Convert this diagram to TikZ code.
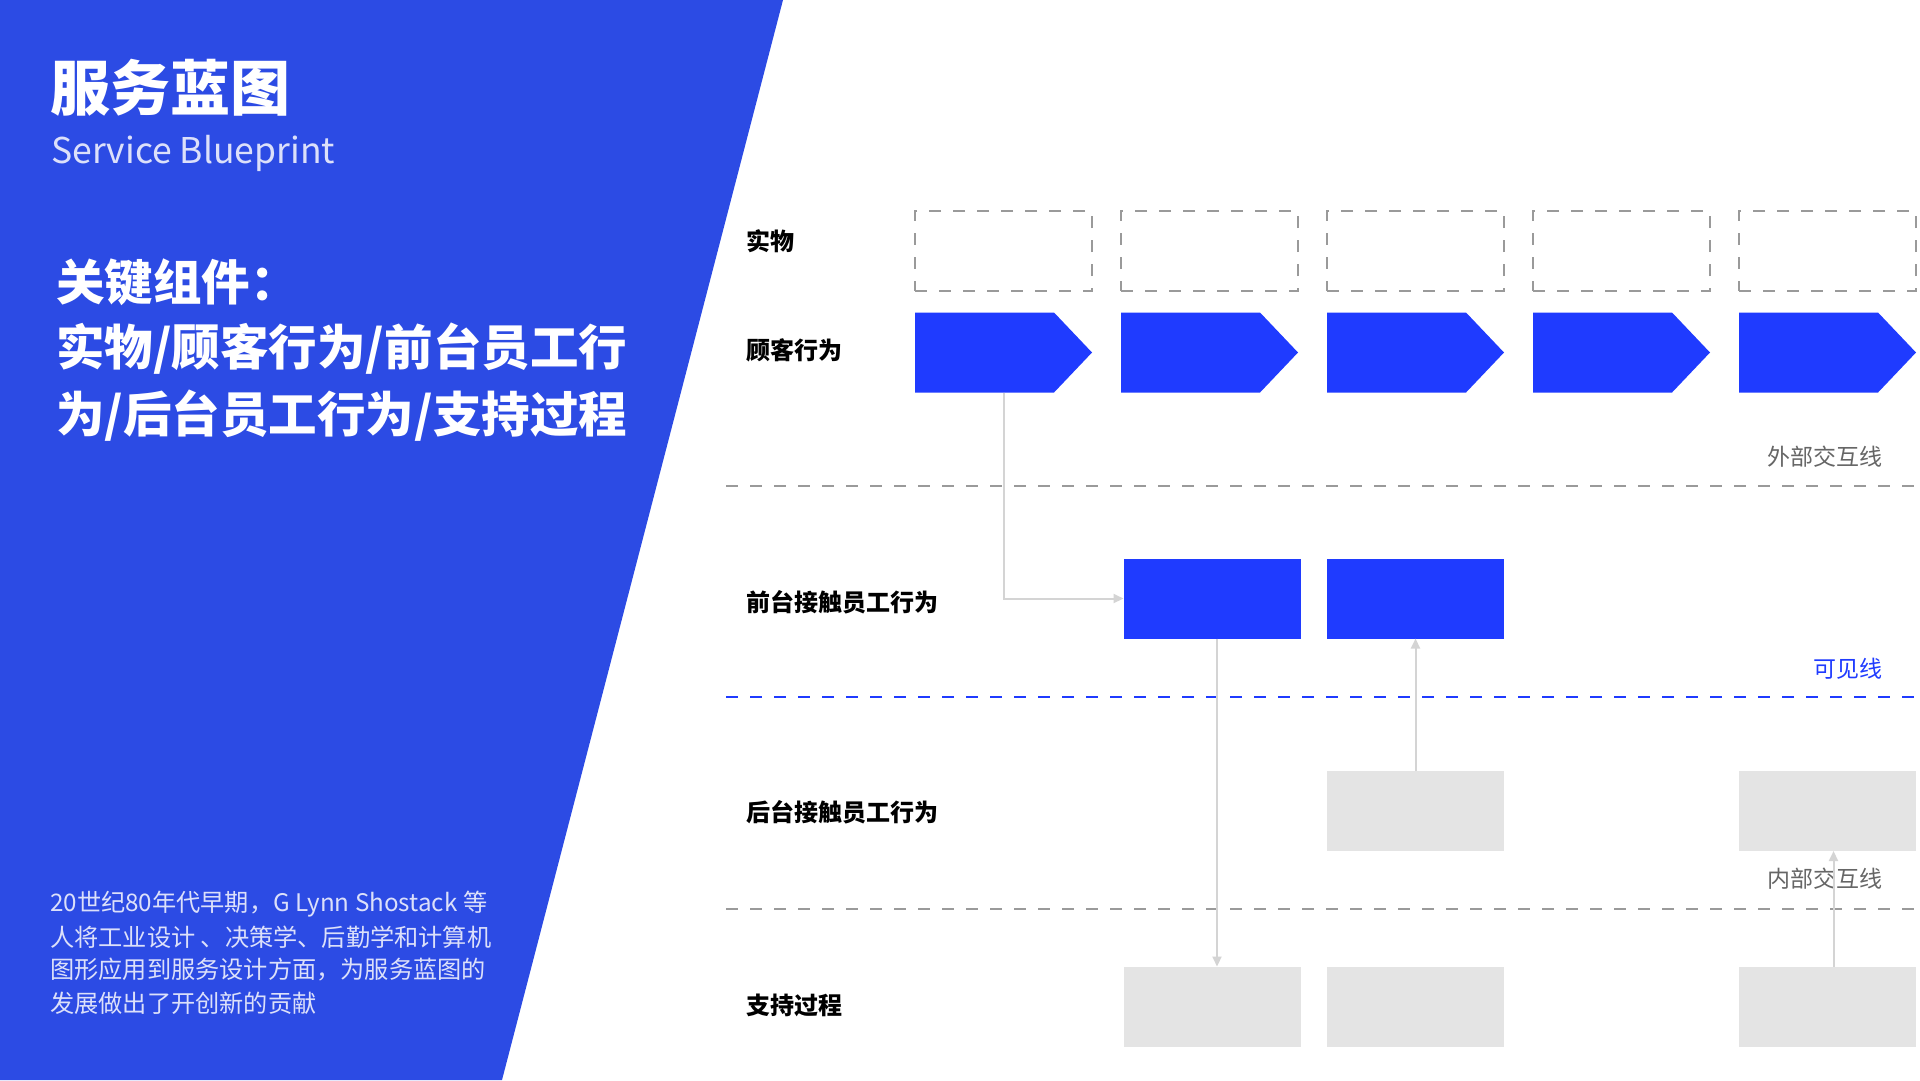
\documentclass[tikz,border=0pt]{standalone}
\usepackage{fontspec}
\setmainfont{Noto Sans CJK SC}
\usetikzlibrary{calc,arrows.meta}
\definecolor{panel}{HTML}{2C4BE4}
\definecolor{vivid}{HTML}{1F3BFF}
\definecolor{pale}{HTML}{E4E4E4}
\definecolor{connc}{HTML}{D4D4D4}
\definecolor{dashc}{HTML}{9A9A9A}
\definecolor{lilac}{HTML}{DCE0FA}
\definecolor{labgray}{HTML}{666666}
\newcommand\myfs[1]{\fontsize{#1}{#1}\selectfont}
\tikzset{
  cell/.style={minimum width=177pt, minimum height=80pt, inner sep=0pt, outer sep=0pt},
  physbox/.style={cell, draw=dashc, line width=2pt, dash pattern=on 12pt off 12pt},
  greybox/.style={cell, fill=pale},
  bluebox/.style={cell, fill=vivid},
  arrowholder/.style={cell},
  rowlabel/.style={anchor=west, inner sep=0pt, font=\bfseries\myfs{24}, text=black},
  linelabel/.style={anchor=east, inner sep=0pt, font=\myfs{23}},
  sepline/.style={line width=2pt, dash pattern=on 12pt off 12pt},
  conn/.style={draw=connc, line width=2pt, -{Triangle[length=10pt,width=9pt]}},
  lefttext/.style={anchor=west, inner sep=0pt},
}
\begin{document}
\begin{tikzpicture}[x=1pt,y=-1pt]
\useasboundingbox (0,0) rectangle (1920,1080);
\fill[white] (0,0) rectangle (1920,1080);
% left panel
\fill[panel] (0,0) -- (783,0) -- (502,1080) -- (0,1080) -- cycle;
\node[lefttext, text=white, font=\bfseries\myfs{60}] (title) at (50,88) {服务蓝图};
\node[lefttext, text=lilac, font=\myfs{35.5}] (subtitle) at (51,153) {Service Blueprint};
\node[lefttext, text=white, font=\bfseries\myfs{48.5}] (key1) at (56,282) {关键组件：};
\node[lefttext, text=white, font=\bfseries\myfs{48.5}] (key2) at (56,349) {实物/顾客行为/前台员工行};
\node[lefttext, text=white, font=\bfseries\myfs{48.5}] (key3) at (56,416) {为/后台员工行为/支持过程};
\node[lefttext, text=lilac, font=\myfs{24.2}] (p1) at (50,904) {20世纪80年代早期，G Lynn Shostack 等};
\node[lefttext, text=lilac, font=\myfs{24.2}] (p2) at (50,937) {人将工业设计 、决策学、后勤学和计算机};
\node[lefttext, text=lilac, font=\myfs{24.2}] (p3) at (50,970) {图形应用到服务设计方面，为服务蓝图的};
\node[lefttext, text=lilac, font=\myfs{24.2}] (p4) at (50,1003) {发展做出了开创新的贡献};
% row labels
\node[rowlabel] (l1) at (746,241) {实物};
\node[rowlabel] (l2) at (746,350) {顾客行为};
\node[rowlabel] (l3) at (746,602) {前台接触员工行为};
\node[rowlabel] (l4) at (746,812) {后台接触员工行为};
\node[rowlabel] (l5) at (746,1005) {支持过程};
% physical evidence boxes and customer arrows
\foreach \i/\cx in {1/1003.5,2/1209.5,3/1415.5,4/1621.5,5/1827.5}{
  \node[physbox] (phys\i) at (\cx,251) {};
  \node[arrowholder] (cust\i) at (\cx,352.5) {};
  \fill[vivid] (cust\i.north west) -- ($(cust\i.north east)+(-38pt,0)$) -- (cust\i.east)
     -- ($(cust\i.south east)+(-38pt,0)$) -- (cust\i.south west) -- cycle;
}
% front stage
\node[bluebox] (front2) at (1212,598.5) {};
\node[bluebox] (front3) at (1415.5,598.5) {};
% back stage
\node[greybox] (back3) at (1415.5,811) {};
\node[greybox] (back5) at (1827.5,811) {};
% support
\node[greybox] (sup2) at (1212,1006.5) {};
\node[greybox] (sup3) at (1415.5,1006.5) {};
\node[greybox] (sup5) at (1827.5,1006.5) {};
% separator lines
\coordinate (s1a) at (726,486); \coordinate (s1b) at (1916,486);
\coordinate (s2a) at (726,697); \coordinate (s2b) at (1916,697);
\coordinate (s3a) at (726,909); \coordinate (s3b) at (1916,909);
\draw[sepline, draw=dashc] (s1a) -- (s1b);
\draw[sepline, draw=vivid] (s2a) -- (s2b);
\draw[sepline, draw=dashc] (s3a) -- (s3b);
\node[linelabel, text=labgray] (ext) at (1883,457) {外部交互线};
\node[linelabel, text=vivid] (vis) at (1883,669) {可见线};
\node[linelabel, text=labgray] (int) at (1883,879) {内部交互线};
% connectors
\draw[conn] (cust1.south) |- (front2.west);
\draw[conn] ([xshift=5pt]front2.south) -- ([xshift=5pt]sup2.north);
\draw[conn] (back3.north) -- (front3.south);
\draw[conn] ([xshift=6pt]sup5.north) -- ([xshift=6pt]back5.south);
\end{tikzpicture}
\end{document}
